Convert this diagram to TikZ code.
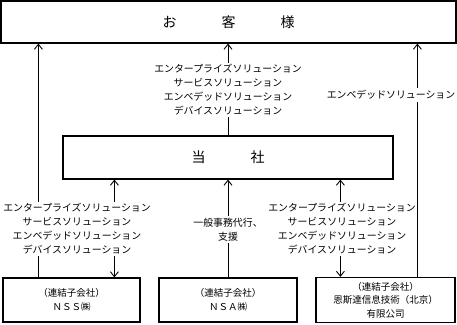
\documentclass[tikz,border=0pt]{standalone}
\usepackage{fontspec}
\setmainfont{Noto Sans CJK JP}
\usetikzlibrary{arrows.meta}
\begin{document}
\begin{tikzpicture}[x=1pt,y=-1pt,
  box/.style={draw,line width=1.2pt,inner sep=0pt,align=center},
  lbl/.style={fill=white,inner sep=2pt,align=center,font=\fontsize{9.9}{14}\selectfont},
  btxt/.style={font=\fontsize{9.5}{14.5}\selectfont},
  arr/.style={line width=0.9pt,-{Straight Barb[length=5pt,width=8pt,line width=0.9pt]}},
  darr/.style={line width=0.9pt,{Straight Barb[length=5pt,width=8pt,line width=0.9pt]}-{Straight Barb[length=5pt,width=8pt,line width=0.9pt]}}]
\useasboundingbox (0,0) rectangle (457,324);
\node[box,minimum width=455pt,minimum height=42pt,font=\fontsize{14}{16}\selectfont] (cust) at (228.5,22) {お\hspace{45pt}客\hspace{45pt}様};
\node[box,minimum width=330pt,minimum height=43pt,font=\fontsize{14}{16}\selectfont] (tou) at (228,157.5) {当\hspace{45pt}社};
\node[box,btxt,minimum width=137pt,minimum height=44pt] (nss) at (71.5,300) {（連結子会社）\\ＮＳＳ㈱};
\node[box,btxt,minimum width=138pt,minimum height=44pt] (nsa) at (228,300) {（連結子会社）\\ＮＳＡ㈱};
\node[box,btxt,minimum width=139pt,minimum height=45pt,font=\fontsize{9.5}{13.5}\selectfont] (nsb) at (385.5,300) {（連結子会社）\\恩斯達信息技術（北京）\\有限公司};
% connectors
\draw[arr] ([xshift=36pt]nss.north west) coordinate (a1) -- (a1 |- cust.south);
\draw[darr] ([xshift=112pt]nss.north west) coordinate (a2) -- (a2 |- tou.south);
\draw[arr] (nsa.north) -- (tou.south);
\draw[darr] ([xshift=25pt]nsb.north west) coordinate (a4) -- (a4 |- tou.south);
\draw[arr] (tou.north) -- (tou.north |- cust.south);
% labels
\node[lbl] (l1) at (228,90) {エンタープライズソリューション\\サービスソリューション\\エンベデッドソリューション\\デバイスソリューション};
\node[lbl] (l2) at (77,229) {エンタープライズソリューション\\サービスソリューション\\エンベデッドソリューション\\デバイスソリューション};
\node[lbl] (l3) at (228,229.5) {一般事務代行、\\支援};
\node[lbl] (l4) at (342,229) {エンタープライズソリューション\\サービスソリューション\\エンベデッドソリューション\\デバイスソリューション};
\draw[arr] ([xshift=102pt]nsb.north west) coordinate (a5) -- (a5 |- cust.south);
\node[lbl] (l5) at (391,95) {エンベデッドソリューション};
\end{tikzpicture}
\end{document}
